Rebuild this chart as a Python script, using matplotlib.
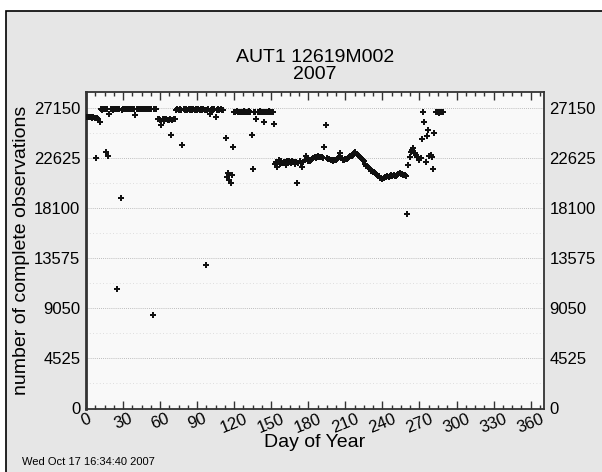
import numpy as np
import matplotlib
matplotlib.use("Agg")
import matplotlib.pyplot as plt
from matplotlib.patches import Rectangle
from matplotlib.ticker import MultipleLocator

plt.rcParams['font.family'] = ['Liberation Sans', 'DejaVu Sans']

# observations per day
days_a = [1, 2, 3, 4, 5, 6, 7, 8, 9, 10, 11]
obs_a = [26350, 26330, 26300, 26310, 26290, 26300, 26280, 22625, 26250, 26200, 25850]

days_b = list(range(12, 58))
obs_b = [27050, 27000, 27060, 27050, 23170, 27040, 22830, 26600, 27060, 27050,
         27000, 27060, 27050, 10800, 27060, 27050, 19000, 27000, 27060, 27050,
         27060, 27040, 27060, 27050, 27060, 27050, 27060, 27040, 26500, 27060,
         27050, 27060, 27050, 27060, 27070, 27050, 27060, 27060, 27050, 27060,
         27050, 27060, 8440, 27050, 27060, 27040]

days_c = list(range(58, 73))
obs_c = [26200, 26150, 26100, 25580, 26150, 26000, 26200, 26150, 26100, 26050,
         26150, 24740, 26100, 26200, 26150]

days_d = list(range(73, 112))
obs_d = [27000, 27050, 27000, 27040, 27000, 23830, 27050, 27000, 27050, 27000,
         27040, 27000, 27050, 27000, 27040, 27000, 27050, 27000, 27040, 27000,
         27050, 27000, 27040, 27000, 12950, 27000, 27040, 26600, 27000, 27050,
         27000, 27040, 26300, 27000, 27050, 27000, 27040, 27000, 26950]

days_e = [113, 114, 115, 116, 117, 118, 119]
obs_e = [24430, 20900, 21290, 20660, 20420, 21110, 23640]

days_f = list(range(120, 153))
obs_f = [26820, 26800, 26850, 26800, 26820, 26780, 26820, 26800, 26850, 26800,
         26820, 26800, 26850, 26800, 24700, 21640, 26820, 26800, 26200, 26820,
         26800, 26850, 26800, 26820, 25920, 26800, 26820, 26800, 26850, 26800,
         26780, 26800, 25710]

days_g = list(range(153, 261))
obs_g = [22050, 22300, 21850, 22500, 22100, 22400, 22200, 22300, 22250, 22000,
         22400, 22350, 22300, 22200, 22400, 22250, 22100, 22300, 20400, 22200,
         22320, 22150, 21810, 22300, 22450, 22830, 22600, 22400, 22410, 22500,
         22550, 22620, 22700, 22650, 22750, 22830, 22750, 22770, 22700, 22650,
         23620, 25640, 22620, 22550, 22530, 22450, 22500, 22410, 22450, 22500,
         22530, 22600, 22700, 23050, 22600, 22470, 22500, 22530, 22530, 22600,
         22710, 22800, 22850, 22920, 23100, 23220, 23000, 22920, 22800, 22700,
         22620, 22450, 22320, 22100, 21930, 21800, 21700, 21630, 21500, 21410,
         21350, 21260, 21200, 21110, 21000, 20870, 20800, 20720, 20800, 20900,
         20960, 21000, 20950, 21020, 21100, 21050, 21110, 21000, 21020, 21100,
         21200, 21260, 21150, 21200, 21100, 21110, 21050, 17600]

days_h = list(range(261, 290))
obs_h = [22020, 22770, 23200, 23380, 23500, 23080, 22900, 22700, 22770, 22500,
         22620, 24370, 26790, 25850, 22230, 24580, 25190, 22830, 22900, 22770,
         21650, 24900, 26750, 26760, 26750, 26740, 26750, 26760, 26750]

yticks = [0, 4525, 9050, 13575, 18100, 22625, 27150]
xticks = list(range(0, 361, 30))

days = days_a + days_b + days_c + days_d + days_e + days_f + days_g + days_h
obs = obs_a + obs_b + obs_c + obs_d + obs_e + obs_f + obs_g + obs_h

fig = plt.figure(figsize=(6.02, 4.72), dpi=100, facecolor='white')
fig.patches.append(Rectangle((6 / 602, -0.01), 1.0, (472 - 11) / 472 + 0.01,
                             transform=fig.transFigure, facecolor='#e6e6e6',
                             edgecolor='black', linewidth=1.2, zorder=-5))

ax = fig.add_axes([86 / 602, (472 - 408.5) / 472, 458 / 602, 316.5 / 472])
ax.set_zorder(2)
ax.set_facecolor('#f9f9f9')

# grid lines: dotted at labelled levels, fainter half way between
for v in yticks[1:]:
    ax.axhline(v, color='#aaaaaa', linestyle=(0, (1, 1.5)), linewidth=0.6, zorder=1)
for v in np.array(yticks[:-1]) + 4525 / 2:
    ax.axhline(v, color='#d5d5d5', linestyle=(0, (1, 3)), linewidth=0.6, zorder=1)

ax.plot(days, obs, linestyle='none', marker='P', markersize=4.3,
        color='#111111', markeredgewidth=0, zorder=3)

ax.set_xlim(0, 370.8)
ax.set_ylim(0, 28600)
ax.xaxis.set_major_locator(MultipleLocator(30))
ax.xaxis.set_minor_locator(MultipleLocator(7.5))
ax.set_xticks(xticks)
ax.set_xticklabels([str(t) for t in xticks], rotation=22, fontsize=12)
ax.tick_params(axis='x', which='major', direction='in', length=6, top=True,
               width=1, pad=2, color='#333333')
ax.tick_params(axis='x', which='minor', direction='in', length=3, top=True,
               width=1, color='#333333')

ax.set_yticks(yticks)
ax.set_yticklabels([str(t) for t in yticks], fontsize=12)
ax.tick_params(axis='y', which='both', length=0, left=True, right=True,
               labelleft=True, labelright=True, pad=4)

for s in ax.spines.values():
    s.set_color('#333333')
    s.set_linewidth(1.3)
ax.spines['left'].set_linewidth(2)

ax.set_xlabel('Day of Year', fontsize=14, labelpad=-1)
ax.set_ylabel('number of complete observations', fontsize=14, labelpad=3)
ax.set_title('AUT1 12619M002\n2007', fontsize=14, pad=9, linespacing=1.0)

fig.text(22 / 602, 1 - 462 / 472, 'Wed Oct 17 16:34:40 2007', fontsize=8,
         va='center', ha='left')

fig.savefig('out.png', dpi=100, facecolor=fig.get_facecolor())
